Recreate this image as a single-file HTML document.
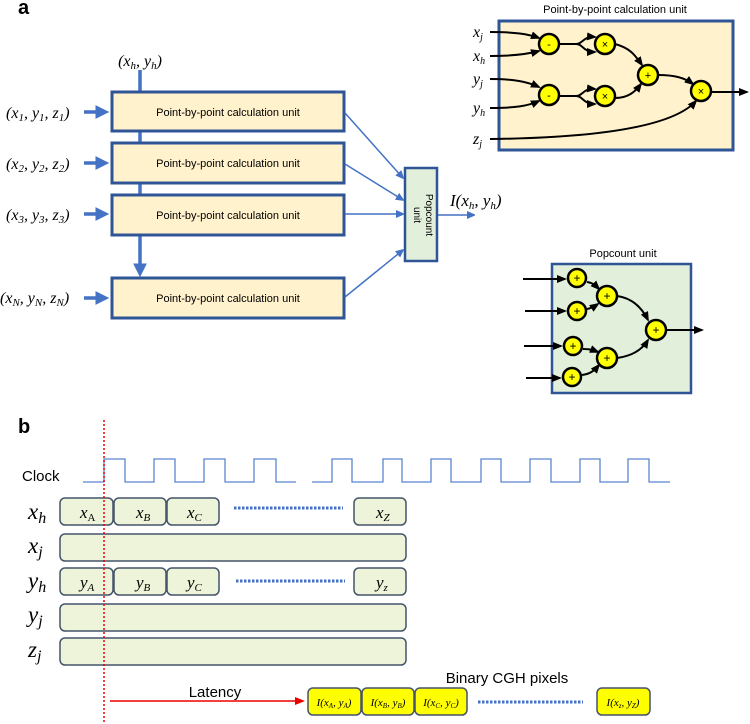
<!DOCTYPE html>
<html><head><meta charset="utf-8"><style>
body{margin:0;background:#fff}
svg{display:block}
.m{font-family:"Liberation Serif",serif;font-style:italic}
.s{font-family:"Liberation Sans",sans-serif}
</style></head><body>
<svg width="750" height="724" viewBox="0 0 750 724" xmlns="http://www.w3.org/2000/svg">
<defs>
<marker id="bt" markerWidth="4" markerHeight="4" refX="2.5" refY="2" orient="auto" markerUnits="strokeWidth"><path d="M0,0L4,2L0,4z" fill="#4472C4"/></marker>
<marker id="bn" markerWidth="8" markerHeight="8" refX="7" refY="4" orient="auto" markerUnits="userSpaceOnUse"><path d="M0,0L9,4L0,8z" fill="#4472C4"/></marker>
<marker id="k" markerWidth="10" markerHeight="8" refX="8" refY="4" orient="auto" markerUnits="userSpaceOnUse"><path d="M0,0L10,4L0,8z" fill="#000"/></marker>
<marker id="r" markerWidth="10" markerHeight="8" refX="8" refY="4" orient="auto" markerUnits="userSpaceOnUse"><path d="M0,0L10,4L0,8z" fill="#e00"/></marker>
</defs>
<text x="18" y="14" class="s" font-weight="bold" font-size="20">a</text>
<text x="140" y="66" text-anchor="middle" class="m" font-size="16">(x<tspan font-size="11" dy="3">h</tspan><tspan dy="-3">, y</tspan><tspan font-size="11" dy="3">h</tspan><tspan dy="-3">)</tspan></text>
<line x1="140" y1="70" x2="140" y2="272" stroke="#4472C4" stroke-width="3.5" marker-end="url(#bt)"/>
<g fill="#FFF2CC" stroke="#2F5597" stroke-width="3">
<rect x="112" y="92" width="232" height="39"/>
<rect x="112" y="143" width="232" height="40"/>
<rect x="112" y="195" width="232" height="40"/>
<rect x="112" y="278" width="232" height="40"/>
</g>
<g class="s" font-size="11" text-anchor="middle" fill="#000">
<text x="228" y="116">Point-by-point calculation unit</text>
<text x="228" y="167">Point-by-point calculation unit</text>
<text x="228" y="219">Point-by-point calculation unit</text>
<text x="228" y="302">Point-by-point calculation unit</text>
</g>
<g class="m" font-size="16">
<text x="6" y="118">(x<tspan font-size="11" dy="3">1</tspan><tspan dy="-3">, y</tspan><tspan font-size="11" dy="3">1</tspan><tspan dy="-3">, z</tspan><tspan font-size="11" dy="3">1</tspan><tspan dy="-3">)</tspan></text>
<text x="6" y="169">(x<tspan font-size="11" dy="3">2</tspan><tspan dy="-3">, y</tspan><tspan font-size="11" dy="3">2</tspan><tspan dy="-3">, z</tspan><tspan font-size="11" dy="3">2</tspan><tspan dy="-3">)</tspan></text>
<text x="6" y="220">(x<tspan font-size="11" dy="3">3</tspan><tspan dy="-3">, y</tspan><tspan font-size="11" dy="3">3</tspan><tspan dy="-3">, z</tspan><tspan font-size="11" dy="3">3</tspan><tspan dy="-3">)</tspan></text>
<text x="0" y="303">(x<tspan font-size="11" dy="3">N</tspan><tspan dy="-3">, y</tspan><tspan font-size="11" dy="3">N</tspan><tspan dy="-3">, z</tspan><tspan font-size="11" dy="3">N</tspan><tspan dy="-3">)</tspan></text>
</g>
<g stroke="#4472C4" stroke-width="3.5">
<line x1="84" y1="112" x2="104" y2="112" marker-end="url(#bt)"/>
<line x1="84" y1="163" x2="104" y2="163" marker-end="url(#bt)"/>
<line x1="84" y1="214" x2="104" y2="214" marker-end="url(#bt)"/>
<line x1="84" y1="298" x2="104" y2="298" marker-end="url(#bt)"/>
</g>
<g stroke="#4472C4" stroke-width="1.5">
<line x1="345" y1="113" x2="403" y2="178" marker-end="url(#bn)"/>
<line x1="345" y1="164" x2="403" y2="200" marker-end="url(#bn)"/>
<line x1="345" y1="214" x2="403" y2="214" marker-end="url(#bn)"/>
<line x1="345" y1="297" x2="403" y2="250" marker-end="url(#bn)"/>
<line x1="437" y1="215" x2="474" y2="215" marker-end="url(#bn)"/>
</g>
<rect x="405" y="168" width="32" height="93" fill="#E2EFDA" stroke="#2F5597" stroke-width="2.5"/>
<text transform="translate(423,215) rotate(90)" text-anchor="middle" class="s" font-size="10" y="-3">Popcount</text>
<text transform="translate(423,215) rotate(90)" text-anchor="middle" class="s" font-size="10" y="9">unit</text>
<text x="450" y="206" class="m" font-size="17">I(x<tspan font-size="11" dy="3">h</tspan><tspan dy="-3">, y</tspan><tspan font-size="11" dy="3">h</tspan><tspan dy="-3">)</tspan></text>

<text x="615" y="13" text-anchor="middle" class="s" font-size="11">Point-by-point calculation unit</text>
<rect x="499" y="21" width="234" height="129" fill="#FFF2CC" stroke="#2F5597" stroke-width="3"/>
<g class="m" font-size="16">
<text x="473" y="37">x<tspan font-size="10" dy="3">j</tspan></text>
<text x="473" y="61">x<tspan font-size="10" dy="3">h</tspan></text>
<text x="473" y="84">y<tspan font-size="10" dy="3">j</tspan></text>
<text x="473" y="113">y<tspan font-size="10" dy="3">h</tspan></text>
<text x="473" y="144">z<tspan font-size="10" dy="3">j</tspan></text>
</g>
<g fill="none" stroke="#000" stroke-width="2">
<path d="M490,32 C515,32 528,34 539,38" marker-end="url(#k)"/>
<path d="M490,56 C515,56 528,54 539,51" marker-end="url(#k)"/>
<path d="M490,79 C515,79 528,82 539,87" marker-end="url(#k)"/>
<path d="M490,108 C515,108 528,106 539,101" marker-end="url(#k)"/>
<path d="M559,44 L576,44 C583,44 583,36 595,37" marker-end="url(#k)"/>
<path d="M576,44 C583,44 583,52 595,52" marker-end="url(#k)"/>
<path d="M559,96 L576,96 C583,96 583,88 595,89" marker-end="url(#k)"/>
<path d="M576,96 C583,96 583,104 595,104" marker-end="url(#k)"/>
<path d="M615,44 C630,48 635,55 642,65" marker-end="url(#k)"/>
<path d="M615,98 C628,98 635,92 641,84" marker-end="url(#k)"/>
<path d="M658,75 C675,75 685,78 693,84" marker-end="url(#k)"/>
<path d="M490,139 C580,138 670,130 696,101" marker-end="url(#k)"/>
<path d="M711,92 L747,92" marker-end="url(#k)"/>
</g>
<g fill="#FFFF00" stroke="#000" stroke-width="2.5">
<circle cx="549" cy="44" r="10"/><circle cx="549" cy="95" r="10"/>
<circle cx="605" cy="44" r="10"/><circle cx="605" cy="96" r="10"/>
<circle cx="648" cy="75" r="10"/><circle cx="701" cy="91" r="10"/>
</g>
<g class="s" font-size="11" text-anchor="middle">
<text x="549" y="48">-</text><text x="549" y="99">-</text>
<text x="605" y="48">×</text><text x="605" y="100">×</text>
<text x="648" y="79">+</text><text x="701" y="95">×</text>
</g>

<text x="623" y="257" text-anchor="middle" class="s" font-size="11">Popcount unit</text>
<rect x="552" y="264" width="139" height="129" fill="#E2EFDA" stroke="#2F5597" stroke-width="2.5"/>
<g fill="none" stroke="#000" stroke-width="2">
<path d="M523,279 L565,279" marker-end="url(#k)"/>
<path d="M525,311 L565,311" marker-end="url(#k)"/>
<path d="M524,346 L561,346" marker-end="url(#k)"/>
<path d="M526,378 L560,378" marker-end="url(#k)"/>
<path d="M587,282 C593,283 595,285 599,289" marker-end="url(#k)"/>
<path d="M587,309 C592,308 595,306 598,304" marker-end="url(#k)"/>
<path d="M583,349 C590,349 593,350 598,352" marker-end="url(#k)"/>
<path d="M582,375 C590,374 594,371 599,365" marker-end="url(#k)"/>
<path d="M617,296 C632,298 642,308 648,320" marker-end="url(#k)"/>
<path d="M617,358 C632,356 642,350 648,340" marker-end="url(#k)"/>
<path d="M666,330 L702,330" marker-end="url(#k)"/>
</g>
<g fill="#FFFF00" stroke="#000" stroke-width="2.5">
<circle cx="577" cy="278" r="9"/><circle cx="577" cy="311" r="9"/>
<circle cx="573" cy="346" r="9"/><circle cx="572" cy="377" r="9"/>
<circle cx="607" cy="296" r="10"/><circle cx="607" cy="358" r="10"/>
<circle cx="656" cy="330" r="10"/>
</g>
<g class="s" font-size="12" text-anchor="middle">
<text x="577" y="282">+</text><text x="577" y="315">+</text>
<text x="573" y="350">+</text><text x="572" y="381">+</text>
<text x="607" y="300">+</text><text x="607" y="362">+</text>
<text x="656" y="334">+</text>
</g>

<text x="18" y="433" class="s" font-weight="bold" font-size="20">b</text>
<text x="22" y="481" class="s" font-size="15">Clock</text>
<path d="M83,482 H104 V459 H125 V482 H154 V459 H175 V482 H204 V459 H225 V482 H254 V459 H276 V482 H296 M312,482 H332 V459 H352 V482 H383 V459 H402 V482 H431 V459 H451 V482 H481 V459 H501 V482 H530 V459 H551 V482 H580 V459 H600 V482 H628 V459 H649 V482 H670" fill="none" stroke="#5B85D0" stroke-width="1.3"/>
<g fill="#EEF4DA" stroke="#44546A" stroke-width="1.5">
<rect x="60" y="498" width="53" height="27" rx="5"/>
<rect x="114" y="498" width="52" height="27" rx="5"/>
<rect x="167" y="498" width="52" height="27" rx="5"/>
<rect x="354" y="498" width="52" height="27" rx="5"/>
<rect x="60" y="534" width="346" height="27" rx="5"/>
<rect x="60" y="568" width="53" height="27" rx="5"/>
<rect x="114" y="568" width="52" height="27" rx="5"/>
<rect x="167" y="568" width="52" height="27" rx="5"/>
<rect x="354" y="568" width="52" height="27" rx="5"/>
<rect x="60" y="604" width="346" height="27" rx="5"/>
<rect x="60" y="638" width="346" height="27" rx="5"/>
</g>
<g stroke="#4472C4" stroke-width="3" stroke-dasharray="2.5,1.5">
<line x1="234" y1="508" x2="343" y2="508"/>
<line x1="236" y1="581" x2="345" y2="581"/>
<line x1="478" y1="702" x2="583" y2="702"/>
</g>
<g class="m" font-size="23">
<text x="28" y="519">x<tspan font-size="16" dy="4">h</tspan></text>
<text x="28" y="553">x<tspan font-size="16" dy="4">j</tspan></text>
<text x="28" y="588">y<tspan font-size="16" dy="4">h</tspan></text>
<text x="28" y="622">y<tspan font-size="16" dy="4">j</tspan></text>
<text x="28" y="657">z<tspan font-size="16" dy="4">j</tspan></text>
</g>
<g class="m" font-size="17">
<text x="80" y="518">x<tspan font-size="11" dy="3" font-style="normal">A</tspan></text>
<text x="136" y="518">x<tspan font-size="11" dy="3">B</tspan></text>
<text x="187" y="518">x<tspan font-size="11" dy="3">C</tspan></text>
<text x="376" y="518">x<tspan font-size="11" dy="3">Z</tspan></text>
<text x="80" y="588">y<tspan font-size="11" dy="3">A</tspan></text>
<text x="136" y="588">y<tspan font-size="11" dy="3">B</tspan></text>
<text x="187" y="588">y<tspan font-size="11" dy="3">C</tspan></text>
<text x="376" y="588">y<tspan font-size="11" dy="3">z</tspan></text>
</g>
<line x1="104" y1="420" x2="104" y2="724" stroke="#e00" stroke-width="1.5" stroke-dasharray="2,2"/>
<text x="215" y="697" text-anchor="middle" class="s" font-size="15">Latency</text>
<line x1="110" y1="701" x2="303" y2="701" stroke="#e00" stroke-width="1.5" marker-end="url(#r)"/>
<text x="507" y="683" text-anchor="middle" class="s" font-size="15">Binary CGH pixels</text>
<g fill="#FFFF00" stroke="#44546A" stroke-width="1.5">
<rect x="308" y="688" width="53" height="27" rx="5"/>
<rect x="362" y="688" width="52" height="27" rx="5"/>
<rect x="415" y="688" width="52" height="27" rx="5"/>
<rect x="597" y="688" width="53" height="27" rx="5"/>
</g>
<g class="m" font-size="11" text-anchor="middle">
<text x="334" y="706">I(x<tspan font-size="7" dy="2">A</tspan><tspan dy="-2">, y</tspan><tspan font-size="7" dy="2">A</tspan><tspan dy="-2">)</tspan></text>
<text x="388" y="706">I(x<tspan font-size="7" dy="2">B</tspan><tspan dy="-2">, y</tspan><tspan font-size="7" dy="2">B</tspan><tspan dy="-2">)</tspan></text>
<text x="441" y="706">I(x<tspan font-size="7" dy="2">C</tspan><tspan dy="-2">, y</tspan><tspan font-size="7" dy="2">C</tspan><tspan dy="-2">)</tspan></text>
<text x="623" y="706">I(x<tspan font-size="7" dy="2">z</tspan><tspan dy="-2">, y</tspan><tspan font-size="7" dy="2">Z</tspan><tspan dy="-2">)</tspan></text>
</g>
</svg>
</body></html>
